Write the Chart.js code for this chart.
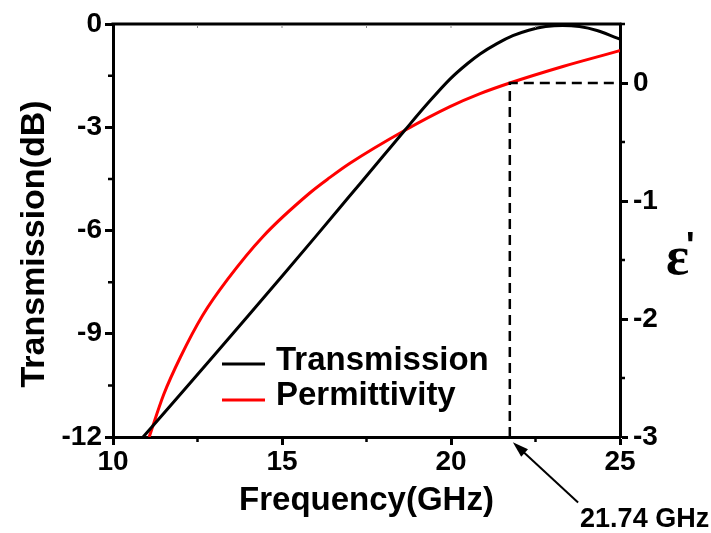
<!DOCTYPE html>
<html><head><meta charset="utf-8">
<script src="https://cdn.jsdelivr.net/npm/chart.js@4.4.0/dist/chart.umd.min.js"></script>
<style>html,body{margin:0;padding:0;background:#fff;overflow:hidden;}canvas{display:block;}</style>
</head><body>
<canvas id="c" width="711" height="533"></canvas>
<script>
// ---- data ----
const freqTransmission = [10.89, 12.0, 13.0, 14.0, 15.0, 16.0, 17.0, 18.0, 18.64, 19.3, 19.97, 20.5, 20.86, 21.36, 21.83, 22.3, 22.8, 23.3, 23.8, 24.32, 24.94, 25.0];
const transmissionDB   = [-12.0, -10.75, -9.62, -8.48, -7.33, -6.17, -5.00, -3.83, -3.08, -2.32, -1.60, -1.14, -0.87, -0.57, -0.34, -0.18, -0.075, -0.04, -0.075, -0.19, -0.42, -0.44];
const freqPermittivity = [11.07, 11.5, 12.0, 12.65, 13.4, 14.44, 15.83, 16.42, 17.01, 18.64, 19.97, 20.86, 21.74, 23.31, 24.94, 25.0];
const permittivity     = [-3.0, -2.64, -2.32, -1.97, -1.66, -1.30, -0.93, -0.80, -0.68, -0.40, -0.20, -0.09, 0.0, 0.14, 0.27, 0.275];
const seriesLabels = ['Transmission', 'Permittivity'];
const seriesColors = ['#000000', '#ff0000'];
const xRange = [10, 25], xStep = 5;
const yRange = [-12, 0], yStep = 3;
const y2Range = [-3, 0.5], y2Step = 1;
const markerFreq = [21.74];
const markerEps = [0];
const markerText = ['21.74 GHz'];
const arrowFrom = [23.76, -13.9];
const arrowTo = [21.83, -12.15];

const SANS = "'Liberation Sans', Arial, sans-serif";
Chart.defaults.font.family = SANS;
Chart.defaults.color = '#000';

const tickFont = {family: SANS, size: 28, weight: 'bold'};
const gridOpts = {display: true, drawOnChartArea: false, drawTicks: true, tickLength: 8, tickWidth: 3, tickColor: '#000'};
const borderOpts = {display: true, color: '#000', width: 3};

const decor = {
  id: 'decor',
  afterDatasetsDraw(chart) {
    const {ctx, chartArea: a, scales: {x, y, y2}} = chart;
    ctx.save();
    // dashed marker lines
    const mx = x.getPixelForValue(markerFreq[0]);
    const my = y2.getPixelForValue(markerEps[0]);
    ctx.strokeStyle = '#000';
    ctx.lineWidth = 2.5;
    ctx.setLineDash([10, 6]);
    ctx.beginPath();
    ctx.moveTo(mx, a.bottom); ctx.lineTo(mx, my); ctx.lineTo(a.right, my);
    ctx.stroke();
    ctx.setLineDash([]);
    // top frame
    ctx.lineWidth = 3;
    ctx.beginPath();
    ctx.moveTo(a.left - 1.5, a.top); ctx.lineTo(a.right + 1.5, a.top);
    ctx.stroke();
    // minor ticks
    ctx.lineWidth = 2.5;
    ctx.beginPath();
    for (let v = xRange[0] + xStep / 2; v < xRange[1]; v += xStep) {
      const px = x.getPixelForValue(v);
      ctx.moveTo(px, a.bottom); ctx.lineTo(px, a.bottom + 5);
    }
    for (let v = yRange[0] + yStep / 2; v < yRange[1]; v += yStep) {
      const py = y.getPixelForValue(v);
      ctx.moveTo(a.left, py); ctx.lineTo(a.left - 5, py);
    }
    for (let v = y2Range[0] + y2Step / 2; v <= y2Range[1] + 1e-9; v += y2Step) {
      const py = y2.getPixelForValue(v);
      ctx.moveTo(a.right, py); ctx.lineTo(a.right + 5, py);
    }
    ctx.stroke();
    // faint top ticks
    ctx.lineWidth = 1;
    ctx.strokeStyle = '#888';
    ctx.beginPath();
    for (let v = xRange[0] + xStep / 2; v < xRange[1]; v += xStep / 2) {
      const px = x.getPixelForValue(v);
      ctx.moveTo(px, a.top + 1); ctx.lineTo(px, a.top + 4);
    }
    ctx.stroke();
    ctx.strokeStyle = '#000';
    // arrow
    const tx = x.getPixelForValue(arrowFrom[0]), ty = y.getPixelForValue(arrowFrom[1]);
    const hx = x.getPixelForValue(arrowTo[0]), hy = y.getPixelForValue(arrowTo[1]);
    const ang = Math.atan2(hy - ty, hx - tx);
    ctx.lineWidth = 2;
    ctx.beginPath();
    ctx.moveTo(tx, ty); ctx.lineTo(hx - 10 * Math.cos(ang), hy - 10 * Math.sin(ang));
    ctx.stroke();
    ctx.beginPath();
    ctx.moveTo(hx, hy);
    ctx.lineTo(hx - 16 * Math.cos(ang) + 5 * Math.sin(ang), hy - 16 * Math.sin(ang) - 5 * Math.cos(ang));
    ctx.lineTo(hx - 16 * Math.cos(ang) - 5 * Math.sin(ang), hy - 16 * Math.sin(ang) + 5 * Math.cos(ang));
    ctx.closePath();
    ctx.fillStyle = '#000';
    ctx.fill();
    // marker label
    ctx.font = "bold 27px " + SANS;
    ctx.textAlign = 'left';
    ctx.textBaseline = 'alphabetic';
    ctx.fillText(markerText[0], tx + 2, ty + 25);
    // legend
    const lx0 = a.left + 109, lx1 = a.left + 152;
    const rows = [{ly: 364, ty: 370}, {ly: 400, ty: 405}];
    ctx.font = "bold 33px " + SANS;
    chart.data.datasets.forEach((ds, i) => {
      ctx.strokeStyle = ds.borderColor;
      ctx.lineWidth = 3;
      ctx.beginPath();
      ctx.moveTo(lx0, rows[i].ly); ctx.lineTo(lx1, rows[i].ly);
      ctx.stroke();
      ctx.fillStyle = '#000';
      ctx.fillText(ds.label, a.left + 163, rows[i].ty);
    });
    // left axis title
    ctx.save();
    ctx.translate(35, 244);
    ctx.rotate(-Math.PI / 2);
    ctx.font = "bold 34px " + SANS;
    ctx.textAlign = 'center';
    ctx.textBaseline = 'middle';
    ctx.fillText('Transmission(dB)', 0, 0);
    ctx.restore();
    // right axis title
    ctx.textAlign = 'left';
    ctx.textBaseline = 'alphabetic';
    ctx.font = "bold 54px 'Liberation Serif', 'Times New Roman', serif";
    ctx.fillText('ε', a.right + 46, 274);
    ctx.font = "bold 36px " + SANS;
    ctx.fillText("'", a.right + 66, 258);
    ctx.restore();
  }
};

new Chart(document.getElementById('c'), {
  type: 'line',
  data: {
    datasets: [
      {label: seriesLabels[0], data: freqTransmission.map((f, i) => ({x: f, y: transmissionDB[i]})),
       borderColor: seriesColors[0], borderWidth: 3, pointRadius: 0, cubicInterpolationMode: 'monotone', yAxisID: 'y'},
      {label: seriesLabels[1], data: freqPermittivity.map((f, i) => ({x: f, y: permittivity[i]})),
       borderColor: seriesColors[1], borderWidth: 3, pointRadius: 0, cubicInterpolationMode: 'monotone', yAxisID: 'y2'}
    ]
  },
  options: {
    responsive: false, maintainAspectRatio: false, animation: false, devicePixelRatio: 1,
    layout: {padding: {top: 24, left: 0, right: 0, bottom: 0}},
    plugins: {legend: {display: false}, tooltip: {enabled: false}},
    scales: {
      x: {
        type: 'linear', position: 'bottom', min: xRange[0], max: xRange[1],
        afterFit: s => { s.height = 96; },
        ticks: {stepSize: xStep, font: tickFont, color: '#000', padding: 0, maxRotation: 0, autoSkip: false},
        grid: gridOpts, border: borderOpts,
        title: {display: true, text: 'Frequency(GHz)', color: '#000', font: {family: SANS, size: 33, weight: 'bold'}, padding: {top: 0, bottom: 12}}
      },
      y: {
        type: 'linear', position: 'left', min: yRange[0], max: yRange[1],
        afterFit: s => { s.width = 113; },
        ticks: {stepSize: yStep, font: tickFont, color: '#000', padding: 3},
        grid: gridOpts, border: borderOpts
      },
      y2: {
        type: 'linear', position: 'right', min: y2Range[0], max: y2Range[1],
        afterFit: s => { s.width = 91; },
        afterBuildTicks: s => { s.ticks = s.ticks.filter(t => Math.abs(t.value - Math.round(t.value)) < 1e-9); },
        ticks: {stepSize: y2Step, font: tickFont, color: '#000', padding: 5},
        grid: gridOpts, border: borderOpts
      }
    }
  },
  plugins: [decor]
});
</script>
</body></html>
